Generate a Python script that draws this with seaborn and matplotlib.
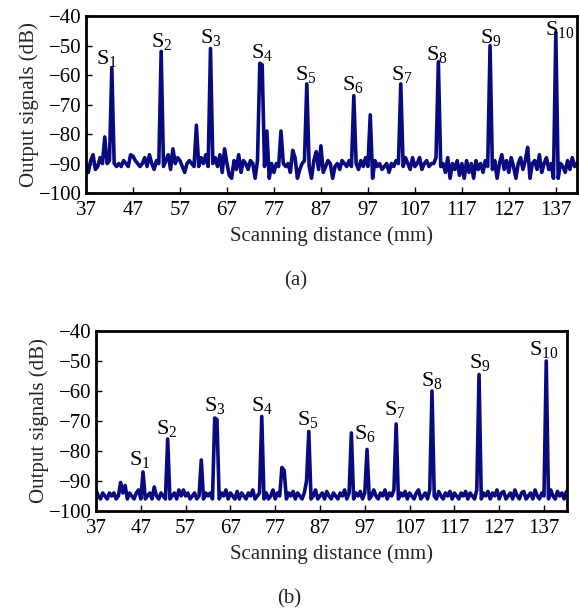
import numpy as np
import pandas as pd
import matplotlib
matplotlib.use("Agg")
import matplotlib.pyplot as plt
import seaborn as sns

# ── Data ──────────────────────────────────────────────────────
# panel (a): scanning distance 37..141.5 mm, 0.5 mm step
dist_a = np.arange(37.0, 141.51, 0.5)
sig_a = [
    -91, -93, -89, -87, -92, -91, -88, -90, -81, -90, -89, -57.5, -90, -91, -90, -91, -89, -90, -91, -87,
    -87.5, -89, -90, -91, -90, -88, -91, -87, -90, -92, -89, -90, -52, -91, -89, -87, -92, -85, -90, -88,
    -89, -91, -93, -90, -89, -90, -91, -77, -91, -88, -90, -87, -91, -51, -90, -88, -91, -87, -93, -85,
    -90, -94, -95, -89, -92, -87, -93, -89, -90, -92, -89, -90, -95, -89, -56, -56.5, -91, -79, -95, -90,
    -93, -90, -91, -79, -90, -91, -90, -93, -85.5, -88, -95, -92, -90, -89, -63, -91, -95, -89, -86, -92,
    -84, -93, -91, -89, -90, -95, -91, -90, -92, -89, -90, -91, -89, -91, -67, -90, -92, -89, -91, -88,
    -91, -73.5, -95, -89, -91, -90, -92, -91, -90, -93, -90, -91, -89, -90, -63, -91, -88, -90, -92, -88,
    -91, -90, -88, -92, -90, -89, -91, -90, -90, -88, -55.5, -91, -90, -93, -88, -95, -90, -92, -89, -94,
    -90, -95, -89, -93, -90, -95, -89, -92, -90, -93, -89, -91, -50, -92, -89, -95, -90, -87, -92, -89,
    -93, -88, -91, -95, -90, -88, -92, -89, -84.5, -95, -90, -89, -92, -87, -93, -90, -88, -92, -90, -95,
    -45.5, -95, -90, -91, -93, -89, -92, -88, -91, -90,
]
labels_a_x = [41.5, 53.1, 63.6, 74.4, 83.8, 93.8, 104.2, 111.7, 123.2, 137.8]
labels_a_y = [-54.6, -48.8, -47.5, -52.5, -60.0, -63.4, -60.0, -53.2, -47.5, -44.8]

# panel (b): scanning distance 37..142 mm, 0.5 mm step
dist_b = np.arange(37.0, 142.01, 0.5)
sig_b = [
    -93, -95, -96, -94, -95, -96, -94, -95, -94, -96, -95, -90.5, -94, -91.5, -96, -94, -95, -96, -94, -93,
    -96, -87, -96, -95, -94, -96, -92, -95, -96, -94, -95, -96, -76, -96, -95, -94, -96, -93, -95, -93,
    -95, -94, -96, -95, -94, -96, -95, -83, -96, -94, -95, -94, -96, -69, -69.5, -96, -94, -95, -93, -96,
    -94, -95, -96, -93.5, -96, -94, -95, -96, -94, -95, -93, -96, -95, -94, -68.5, -96, -94, -96, -95, -93,
    -96, -94, -95, -85.5, -86.5, -96, -94, -95, -93.5, -96, -94, -95, -96, -94, -90, -73.5, -96, -95, -93, -96,
    -95, -94, -96, -93.5, -95, -96, -94, -95, -96, -94, -95, -93, -96, -94, -74, -96, -94, -95, -93.5, -96,
    -94, -79.5, -96, -95, -93, -95, -96, -94, -95, -93, -96, -94, -95, -93, -71, -96, -94, -95, -93.5, -96,
    -94, -95, -96, -94, -93, -96, -95, -94, -96, -93, -60, -95, -96, -93.5, -95, -96, -94, -95, -93.5, -96,
    -94, -95, -96, -94, -95, -93.5, -96, -94, -95, -96, -93, -54.5, -96, -94, -95, -93.5, -96, -94, -95, -93,
    -96, -94, -93.5, -96, -95, -94, -96, -93, -95, -96, -94, -93.5, -96, -95, -94, -96, -93, -95, -96, -94,
    -95, -50, -96, -93, -95, -96, -93.5, -95, -94, -96, -93.5,
]
labels_b_x = [46.8, 52.8, 63.6, 74.0, 84.4, 97.0, 103.7, 111.9, 122.7, 136.9]
labels_b_y = [-83.0, -72.8, -65.2, -65.0, -69.7, -74.4, -66.3, -56.9, -50.6, -46.3]

x_ticks = [37, 47, 57, 67, 77, 87, 97, 107, 117, 127, 137]
y_ticks = [-40, -50, -60, -70, -80, -90, -100]

# ── Style ─────────────────────────────────────────────────────
sns.set_theme(style="ticks")
plt.rcParams["font.family"] = ["Liberation Serif", "DejaVu Serif"]
plt.rcParams["mathtext.fontset"] = "custom"
plt.rcParams["mathtext.rm"] = "Liberation Serif"
plt.rcParams["axes.unicode_minus"] = True

LINE = "#0a0a80"
FS = 15

fig = plt.figure(figsize=(5.79, 6.09), dpi=100)
ax_a = fig.add_axes([0.1485, 0.683, 0.848, 0.2907])
ax_b = fig.add_axes([0.1658, 0.161, 0.8132, 0.2955])


def draw_panel(ax, dist, sig, lx, ly, xmax):
    df = pd.DataFrame({"dist": dist, "sig": sig})
    sns.lineplot(data=df, x="dist", y="sig", ax=ax, color=LINE, lw=2.6,
                 estimator=None, sort=False)
    for i, (tx, ty) in enumerate(zip(lx, ly)):
        ax.text(tx, ty, rf"$\mathrm{{S}}_{{{i + 1}}}$", fontsize=16,
                ha="center", va="center", color="black")
    ax.set_xlim(37, xmax)
    ax.set_ylim(-100, -40)
    ax.set_xticks(x_ticks)
    ax.set_yticks(y_ticks)
    ax.tick_params(direction="in", length=4, width=1, labelsize=FS,
                   colors="black")
    ax.tick_params(axis="x", pad=6)
    ax.tick_params(axis="y", pad=3)
    for sp in ax.spines.values():
        sp.set_visible(True)
        sp.set_linewidth(2)
        sp.set_color("black")
    ax.set_xlabel("Scanning distance (mm)", fontsize=FS, labelpad=4)
    ax.set_ylabel("Output signals (dB)", fontsize=FS, labelpad=0)


draw_panel(ax_a, dist_a, sig_a, labels_a_x, labels_a_y, 141.5)
draw_panel(ax_b, dist_b, sig_b, labels_b_x, labels_b_y, 142.1)

fig.text(0.51, 1 - 281 / 609, "(a)", fontsize=FS, ha="center", va="center")
fig.text(0.50, 1 - 599 / 609, "(b)", fontsize=FS, ha="center", va="center")

fig.savefig("out.png", dpi=100)
